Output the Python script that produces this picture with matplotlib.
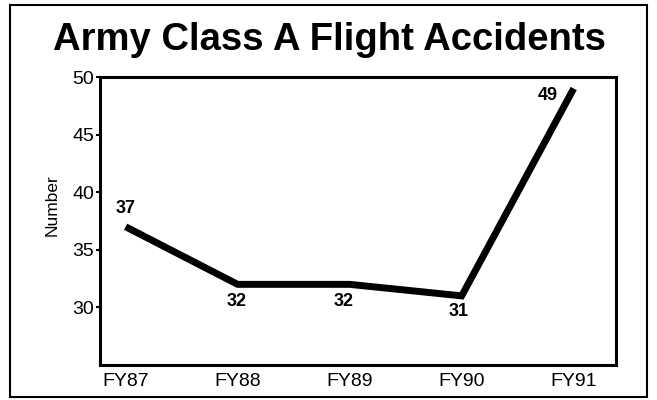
import matplotlib
matplotlib.use("Agg")
import matplotlib.pyplot as plt
from matplotlib.patches import Rectangle

years = ["FY87", "FY88", "FY89", "FY90", "FY91"]
accidents = [37, 32, 32, 31, 49]
# where each value label sits relative to its point (points)
label_offsets = [(0, 13), (-1, -12), (-4, -12), (-2, -11), (-19, -5)]

plt.rcParams['font.family'] = ['Liberation Sans', 'DejaVu Sans']

fig = plt.figure(figsize=(6.57, 4.0), dpi=100)
ax = fig.add_axes([0.152, 0.0875, 0.786, 0.72])

x = list(range(len(years)))
ax.plot(x, accidents, color="black", lw=5, solid_capstyle="butt", solid_joinstyle="miter")

for xi, v, off in zip(x, accidents, label_offsets):
    ax.annotate(str(v), (xi, v), xytext=off, textcoords="offset points",
                ha="center", va="center", fontsize=13, fontweight="bold")

ax.set_xlim(-0.23, 4.38)
ax.set_ylim(25, 50)
ax.set_yticks([30, 35, 40, 45, 50])
ax.set_xticks(x)
ax.set_xticklabels(years)
ax.tick_params(axis="y", length=3, width=1.5, labelsize=14, pad=1)
ax.tick_params(axis="x", length=0, labelsize=14, pad=6)
ax.set_ylabel("Number", fontsize=12.5)
ax.yaxis.set_label_coords(-0.077, 0.555)
for s in ax.spines.values():
    s.set_linewidth(2.2)

fig.text(0.502, 0.9, "Army Class A Flight Accidents", ha="center", va="center",
         fontsize=27.5, fontweight="bold")

fig.patches.append(Rectangle((0.015, 0.008), 0.970, 0.98, transform=fig.transFigure,
                             fill=False, edgecolor="black", lw=1.5))

fig.savefig("out.png", dpi=100)
